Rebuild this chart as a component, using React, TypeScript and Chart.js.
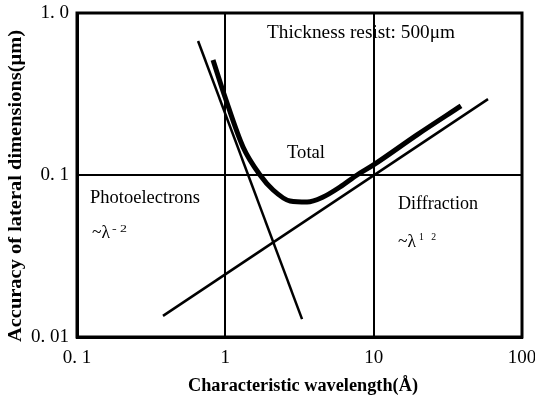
import React, { useEffect, useRef } from "react";
import { Chart, registerables } from "chart.js";

Chart.register(...registerables);

// ---- data (log-log) ----
const photoX = [0.655, 3.29];
const photoY = [0.672, 0.0129];
const diffX = [0.38, 59];
const diffY = [0.0135, 0.294];
const totalX = [0.826, 0.995, 1.316, 1.714, 2.1, 2.73, 3.56, 4.56, 5.93, 7.73, 9.91, 19.6, 38.8];
const totalY = [0.513, 0.303, 0.149, 0.1, 0.0808, 0.0691, 0.0681, 0.0731, 0.0843, 0.1, 0.115, 0.177, 0.267];

const xTicks = [0.1, 1, 10, 100];
const xTickLabels = ["0. 1", "1", "10", "100"];
const yTicks = [0.01, 0.1, 1];
const yTickLabels = ["0. 01", "0. 1", "1. 0"];

const xTitle = "Characteristic wavelength(Å)";
const yTitle = "Accuracy of lateral dimensions(μm)";

const SERIF = "'Liberation Serif', 'DejaVu Serif', serif";

function pts(xs: number[], ys: number[]) {
  return xs.map((x, i) => ({ x, y: ys[i] }));
}

function fitText(
  ctx: CanvasRenderingContext2D,
  text: string,
  x: number,
  y: number,
  width: number,
  font: string,
  align: CanvasTextAlign = "left",
  rotate = 0
) {
  ctx.save();
  ctx.font = font;
  const w = ctx.measureText(text).width;
  const s = width / w;
  ctx.translate(x, y);
  if (rotate) ctx.rotate(rotate);
  ctx.scale(s, 1);
  ctx.textAlign = align;
  ctx.fillText(text, 0, 0);
  ctx.restore();
}

const overlay = {
  id: "overlay",
  afterDraw(chart: any) {
    const ctx: CanvasRenderingContext2D = chart.ctx;
    const a = chart.chartArea;
    ctx.save();
    ctx.strokeStyle = "#000";
    ctx.lineWidth = 3;
    ctx.strokeRect(a.left, a.top, a.right - a.left, a.bottom - a.top);
    ctx.fillStyle = "#000";
    ctx.textBaseline = "alphabetic";
    const f = `18px ${SERIF}`;
    fitText(ctx, "Thickness resist: 500μm", 267, 38, 188, `19px ${SERIF}`);
    fitText(ctx, "Total", 287, 158, 38, f);
    fitText(ctx, "Photoelectrons", 90, 203, 110, f);
    fitText(ctx, "Diffraction", 398, 209, 80, f);
    // ~λ^-2
    fitText(ctx, "~λ", 92, 238, 18, f);
    fitText(ctx, "- 2", 112, 232, 15, `10px ${SERIF}`);
    // ~λ^1 2
    fitText(ctx, "~λ", 398, 247, 18, f);
    fitText(ctx, "1   2", 419, 240, 17, `10px ${SERIF}`);
    // axis titles
    ctx.textBaseline = "middle";
    fitText(ctx, xTitle, 303, 386, 230, `bold 18px ${SERIF}`, "center");
    fitText(ctx, yTitle, 16, 186, 312, `bold 18px ${SERIF}`, "center", -Math.PI / 2);
    ctx.restore();
  },
};

export default function App() {
  const ref = useRef<HTMLCanvasElement>(null);
  useEffect(() => {
    if (!ref.current) return;
    const chart = new Chart(ref.current, {
      type: "scatter",
      data: {
        datasets: [
          {
            data: pts(photoX, photoY),
            showLine: true,
            borderColor: "#000",
            borderWidth: 2.5,
            pointRadius: 0,
          },
          {
            data: pts(diffX, diffY),
            showLine: true,
            borderColor: "#000",
            borderWidth: 2.5,
            pointRadius: 0,
          },
          {
            data: pts(totalX, totalY),
            showLine: true,
            borderColor: "#000",
            borderWidth: 5,
            pointRadius: 0,
            cubicInterpolationMode: "monotone",
          },
        ],
      },
      options: {
        animation: false,
        responsive: false,
        devicePixelRatio: 1,
        layout: { padding: { top: 13, right: 13, left: 0, bottom: 0 } },
        plugins: { legend: { display: false }, tooltip: { enabled: false } },
        scales: {
          x: {
            type: "logarithmic",
            min: 0.1,
            max: 100,
            afterBuildTicks: (s: any) => {
              s.ticks = xTicks.map((v) => ({ value: v }));
            },
            afterFit: (s: any) => {
              s.height = 63;
              s.paddingLeft = 0;
              s.paddingRight = 0;
            },
            ticks: {
              callback: (_v: any, i: number) => xTickLabels[i],
              font: { family: SERIF, size: 19 },
              color: "#000",
              padding: 10,
              maxRotation: 0,
              autoSkip: false,
            },
            grid: { color: "#000", lineWidth: 2, drawTicks: false },
            border: { color: "#000", width: 3 },
          },
          y: {
            type: "logarithmic",
            min: 0.01,
            max: 1,
            afterBuildTicks: (s: any) => {
              s.ticks = yTicks.map((v) => ({ value: v }));
            },
            afterFit: (s: any) => {
              s.width = 77;
              s.paddingTop = 0;
              s.paddingBottom = 0;
            },
            ticks: {
              callback: (_v: any, i: number) => yTickLabels[i],
              font: { family: SERIF, size: 19 },
              color: "#000",
              padding: 8,
              autoSkip: false,
            },
            grid: { color: "#000", lineWidth: 2, drawTicks: false },
            border: { color: "#000", width: 3 },
          },
        },
      } as any,
      plugins: [overlay],
    });
    return () => chart.destroy();
  }, []);
  return (
    <div style={{ position: "absolute", left: 0, top: 0, width: 535, height: 400, background: "#fff" }}>
      <canvas ref={ref} width={535} height={400} />
    </div>
  );
}
